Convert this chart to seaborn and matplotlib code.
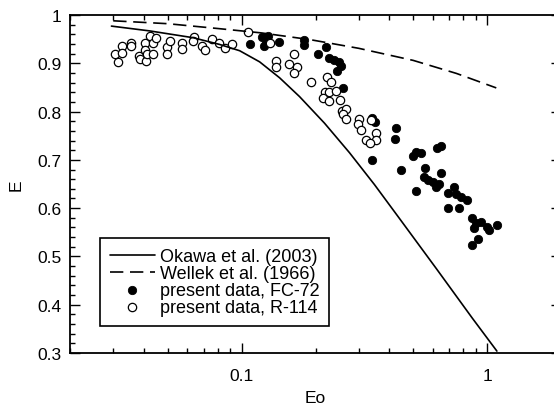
import matplotlib
matplotlib.use("Agg")
import matplotlib.pyplot as plt
import matplotlib.ticker as mticker
import seaborn as sns

# Correlation curves (aspect ratio E against Eotvos number Eo)
okawa_eo = [0.0295, 0.0423, 0.0634, 0.0814, 0.0982, 0.1184, 0.1428, 0.1722, 0.2176,
            0.2749, 0.3474, 0.439, 0.6207, 0.871, 1.096]
okawa_e = [0.977, 0.967, 0.953, 0.939, 0.926, 0.903, 0.870, 0.831, 0.776,
           0.715, 0.649, 0.579, 0.475, 0.372, 0.304]

wellek_eo = [0.03, 0.05, 0.08, 0.12, 0.19, 0.30, 0.50, 0.75, 1.09]
wellek_e = [0.988, 0.982, 0.972, 0.963, 0.949, 0.931, 0.906, 0.879, 0.849]

# Measured data, FC-72
fc72_eo = [0.108, 0.121, 0.128, 0.123, 0.126, 0.142, 0.179, 0.180, 0.204, 0.221,
           0.228, 0.239, 0.249, 0.254, 0.244, 0.258, 0.340, 0.348, 0.426, 0.423,
           0.340, 0.497, 0.513, 0.446, 0.513, 0.538, 0.628, 0.649, 0.560, 0.555,
           0.572, 0.600, 0.619, 0.649, 0.638, 0.690, 0.734, 0.746, 0.782, 0.832,
           0.695, 0.765, 0.871, 0.900, 0.885, 0.943, 1.00, 1.02, 1.10, 0.914, 0.867]
fc72_e = [0.940, 0.955, 0.957, 0.936, 0.943, 0.944, 0.948, 0.938, 0.920, 0.933,
          0.911, 0.907, 0.902, 0.895, 0.885, 0.849, 0.787, 0.778, 0.767, 0.744,
          0.699, 0.708, 0.717, 0.679, 0.636, 0.714, 0.724, 0.728, 0.684, 0.664,
          0.658, 0.655, 0.644, 0.672, 0.651, 0.631, 0.644, 0.629, 0.624, 0.616,
          0.600, 0.600, 0.579, 0.569, 0.559, 0.572, 0.561, 0.554, 0.566, 0.536, 0.524]

# Measured data, R-114
r114_eo = [0.0305, 0.0314, 0.0326, 0.0326, 0.0354, 0.0356, 0.0382, 0.0385, 0.0404, 0.0404,
           0.0408, 0.0412, 0.0423, 0.0434, 0.0434, 0.0450, 0.0497, 0.0497, 0.0510, 0.0574,
           0.0574, 0.0638, 0.0634, 0.0692, 0.0708, 0.0760, 0.0809, 0.0853, 0.0916, 0.106,
           0.130, 0.138, 0.138, 0.156, 0.164, 0.168, 0.163, 0.192, 0.222, 0.232,
           0.218, 0.228, 0.243, 0.214, 0.226, 0.252, 0.257, 0.267, 0.260, 0.267,
           0.300, 0.297, 0.307, 0.337, 0.353, 0.321, 0.353, 0.333]
r114_e = [0.919, 0.903, 0.936, 0.921, 0.943, 0.936, 0.916, 0.909, 0.943, 0.927,
          0.905, 0.919, 0.957, 0.941, 0.920, 0.953, 0.933, 0.920, 0.946, 0.941,
          0.929, 0.955, 0.946, 0.936, 0.927, 0.950, 0.943, 0.931, 0.940, 0.964,
          0.943, 0.905, 0.892, 0.899, 0.920, 0.892, 0.879, 0.861, 0.871, 0.861,
          0.840, 0.840, 0.842, 0.829, 0.822, 0.825, 0.802, 0.806, 0.796, 0.785,
          0.785, 0.774, 0.761, 0.782, 0.756, 0.742, 0.742, 0.735]

sns.set_theme(style="ticks")
plt.rcParams["font.family"] = ["Liberation Sans", "DejaVu Sans"]
plt.rcParams["axes.edgecolor"] = "black"

fig = plt.figure(figsize=(5.54, 4.14), dpi=100)
ax = fig.add_axes([70 / 554, 60 / 414, 491 / 554, 338 / 414])
ax.set_xscale("log")

sns.lineplot(x=okawa_eo, y=okawa_e, ax=ax, color="black", lw=1.2,
             label="Okawa et al. (2003)", zorder=3)
sns.lineplot(x=wellek_eo, y=wellek_e, ax=ax, color="black", lw=1.2,
             linestyle=(0, (8, 4)), label="Wellek et al. (1966)", zorder=3)
sns.scatterplot(x=fc72_eo, y=fc72_e, ax=ax, color="black", edgecolor="black",
                s=36, linewidth=0.6, label="present data, FC-72", zorder=2)
sns.scatterplot(x=r114_eo, y=r114_e, ax=ax, color="white", edgecolor="black",
                s=36, linewidth=0.9, label="present data, R-114", zorder=2)

ax.set_xlim(0.02, 2)
ax.set_ylim(0.3, 1.0)

fmt = mticker.FuncFormatter(lambda v, p: f"{v:g}")
ax.xaxis.set_major_locator(mticker.LogLocator(base=10))
ax.xaxis.set_minor_locator(mticker.LogLocator(base=10, subs=range(2, 10)))
ax.xaxis.set_major_formatter(fmt)
ax.xaxis.set_minor_formatter(mticker.NullFormatter())
ax.yaxis.set_major_locator(mticker.MultipleLocator(0.1))
ax.yaxis.set_minor_locator(mticker.MultipleLocator(0.02))
ax.yaxis.set_major_formatter(fmt)

ax.tick_params(which="both", direction="in", top=True, right=True,
               width=1.0, color="black", labelsize=12.5, labelcolor="black")
ax.tick_params(which="major", length=7)
ax.tick_params(which="minor", length=3.5)
ax.tick_params(axis="x", which="major", pad=11)
ax.tick_params(axis="y", which="major", pad=6)

for sp in ax.spines.values():
    sp.set_linewidth(1.3)
    sp.set_color("black")

ax.set_xlabel("Eo", fontsize=12.5, labelpad=5, color="black")
ax.set_ylabel("E", fontsize=12.5, labelpad=10, color="black")

handles, labels = ax.get_legend_handles_labels()
leg = ax.legend(handles, labels, loc="lower left", bbox_to_anchor=(0.061, 0.080),
                borderaxespad=0, frameon=True, fancybox=False, edgecolor="black",
                framealpha=1, fontsize=13, handlelength=2.5, handletextpad=0.25,
                labelspacing=0.0, borderpad=0.55, scatterpoints=1)
leg.get_frame().set_linewidth(1.2)
for t in leg.get_texts():
    t.set_color("black")

fig.savefig("out.png", dpi=100)
